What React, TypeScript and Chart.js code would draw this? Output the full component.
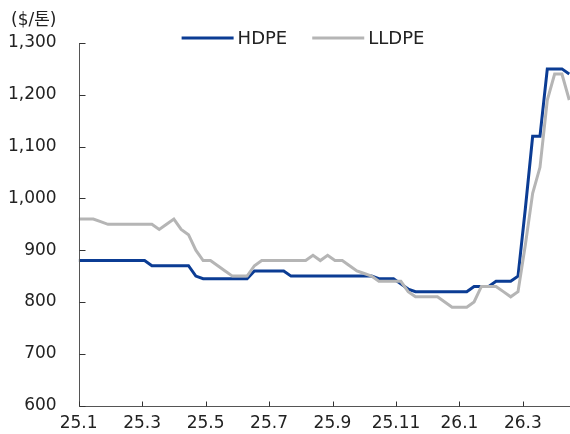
import React, { useEffect, useRef } from 'react';
import { Chart, registerables } from 'chart.js';

Chart.register(...registerables);

// x tick labels (every two months, weekly data)
const monthLabels = ['25.1', '25.3', '25.5', '25.7', '25.9', '25.11', '26.1', '26.3'];
const seriesNames = ['HDPE', 'LLDPE'];
const unitLabel = '($/톤)';
const yTickValues = [600, 700, 800, 900, 1000, 1100, 1200, 1300];

// weekly prices ($/ton), starting first week of Jan 2025
const hdpe = [
  880, 880, 880, 880, 880, 880, 880, 880, 880, 880,
  870, 870, 870, 870, 870, 870, 850, 845, 845, 845,
  845, 845, 845, 845, 860, 860, 860, 860, 860, 850,
  850, 850, 850, 850, 850, 850, 850, 850, 850, 850,
  850, 845, 845, 845, 835, 825, 820, 820, 820, 820,
  820, 820, 820, 820, 830, 830, 830, 840, 840, 840,
  850, 980, 1120, 1120, 1250, 1250, 1250, 1240,
];
const lldpe = [
  960, 960, 960, 955, 950, 950, 950, 950, 950, 950,
  950, 940, 950, 960, 940, 930, 900, 880, 880, 870,
  860, 850, 850, 850, 870, 880, 880, 880, 880, 880,
  880, 880, 890, 880, 890, 880, 880, 870, 860, 855,
  850, 840, 840, 840, 840, 820, 810, 810, 810, 810,
  800, 790, 790, 790, 800, 830, 830, 830, 820, 810,
  820, 910, 1010, 1060, 1190, 1240, 1240, 1190,
];

const colors = ['#0b3c94', '#b5b5b5'];
const FONT = '"DejaVu Sans", "Noto Sans CJK KR", sans-serif';
const WEEKS_PER_MONTH = 52 / 12;

const toPoints = (arr: number[]) => arr.map((v, i) => ({ x: i / WEEKS_PER_MONTH, y: v }));

const decorPlugin = {
  id: 'decor',
  afterDraw(chart: any) {
    const ctx = chart.ctx;
    const xs = chart.scales.x;
    const ys = chart.scales.y;
    const area = chart.chartArea;
    ctx.save();
    // axis lines
    ctx.strokeStyle = '#555';
    ctx.lineWidth = 1;
    const left = Math.round(area.left) + 0.5;
    const bottom = Math.round(area.bottom) + 0.5;
    ctx.beginPath();
    ctx.moveTo(left, Math.round(area.top));
    ctx.lineTo(left, bottom);
    ctx.lineTo(Math.round(area.right), bottom);
    ctx.stroke();
    // inner ticks
    ctx.strokeStyle = '#333';
    yTickValues.forEach((v) => {
      const y = Math.round(ys.getPixelForValue(v)) + 0.5;
      ctx.beginPath();
      ctx.moveTo(left, y);
      ctx.lineTo(left + 6, y);
      ctx.stroke();
    });
    monthLabels.forEach((_, i) => {
      const x = Math.round(xs.getPixelForValue(i * 2)) + 0.5;
      ctx.beginPath();
      ctx.moveTo(x, bottom);
      ctx.lineTo(x, bottom - 5);
      ctx.stroke();
    });
    // unit label
    ctx.fillStyle = '#222';
    ctx.font = `17px ${FONT}`;
    ctx.textAlign = 'left';
    ctx.textBaseline = 'middle';
    ctx.fillText(unitLabel, 11, 21);
    // legend
    ctx.font = `18px ${FONT}`;
    const lineW = 52;
    const gapText = 4;
    const gapItem = 25;
    const widths = seriesNames.map((n) => ctx.measureText(n).width);
    const total = widths.reduce((a, w) => a + lineW + gapText + w, 0) + gapItem * (seriesNames.length - 1);
    let x = 303 - total / 2;
    const ly = 38;
    seriesNames.forEach((name, i) => {
      ctx.strokeStyle = colors[i];
      ctx.lineWidth = 3;
      ctx.beginPath();
      ctx.moveTo(x, ly);
      ctx.lineTo(x + lineW, ly);
      ctx.stroke();
      ctx.fillStyle = '#222';
      ctx.fillText(name, x + lineW + gapText, ly + 1);
      x += lineW + gapText + widths[i] + gapItem;
    });
    ctx.restore();
  },
};

const hiddenGrid = (len: number) => ({
  display: true,
  drawOnChartArea: false,
  drawTicks: true,
  tickLength: len,
  color: 'rgba(0,0,0,0)',
});

export default function App() {
  const ref = useRef<HTMLCanvasElement>(null);
  useEffect(() => {
    if (!ref.current) return;
    const chart = new Chart(ref.current, {
      type: 'line',
      data: {
        datasets: [
          {
            label: seriesNames[0],
            data: toPoints(hdpe),
            borderColor: colors[0],
            backgroundColor: colors[0],
            borderWidth: 3,
            pointRadius: 0,
            tension: 0,
            order: 1,
          },
          {
            label: seriesNames[1],
            data: toPoints(lldpe),
            borderColor: colors[1],
            backgroundColor: colors[1],
            borderWidth: 3,
            pointRadius: 0,
            tension: 0,
            order: 0,
          },
        ],
      },
      options: {
        animation: false,
        responsive: false,
        layout: { padding: { top: 43, left: 8, right: 0, bottom: 0 } },
        plugins: { legend: { display: false }, tooltip: { enabled: false } },
        scales: {
          x: {
            type: 'linear',
            min: 0,
            max: 67.1 / WEEKS_PER_MONTH,
            afterBuildTicks: (scale: any) => {
              scale.ticks = monthLabels.map((_, i) => ({ value: i * 2 }));
            },
            ticks: {
              autoSkip: false,
              maxRotation: 0,
              padding: 0,
              color: '#222',
              font: { family: FONT, size: 17 },
              callback: (v: any) => monthLabels[Math.round(Number(v) / 2)] ?? '',
            },
            grid: hiddenGrid(8),
            border: { display: false },
          },
          y: {
            min: 600,
            max: 1300,
            afterBuildTicks: (scale: any) => {
              scale.ticks = yTickValues.map((v) => ({ value: v }));
            },
            ticks: {
              padding: 0,
              color: '#222',
              font: { family: FONT, size: 17 },
              callback: (v: any) => Number(v).toLocaleString('en-US'),
            },
            grid: hiddenGrid(22),
            border: { display: false },
          },
        },
      },
      plugins: [decorPlugin],
    });
    return () => chart.destroy();
  }, []);
  return (
    <div style={{ position: 'fixed', left: 0, top: 0, width: 570, height: 434, background: '#fff' }}>
      <canvas ref={ref} width={570} height={434} />
    </div>
  );
}
